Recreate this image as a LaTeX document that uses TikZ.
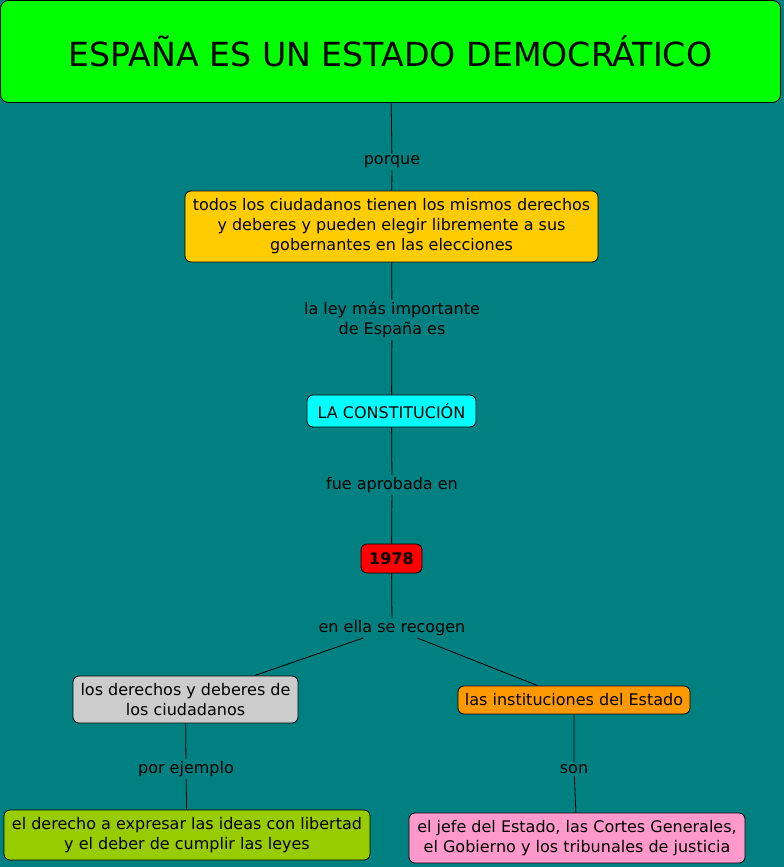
\documentclass[tikz,border=0pt]{standalone}
\usepackage{fontspec}
\setmainfont{DejaVu Sans}
\definecolor{bgteal}{HTML}{008080}
\definecolor{cgreen}{HTML}{00FF00}
\definecolor{cyellow}{HTML}{FFCC00}
\definecolor{ccyan}{HTML}{00FFFF}
\definecolor{cred}{HTML}{FF0000}
\definecolor{cgray}{HTML}{CCCCCC}
\definecolor{corange}{HTML}{FF9900}
\definecolor{clime}{HTML}{99CC00}
\definecolor{cpink}{HTML}{FF99CC}
\tikzset{
  box/.style={draw=black, line width=0.8pt, rounded corners=6pt, align=center, inner sep=0pt,
    font=\fontsize{16}{20}\selectfont, text=black},
  lbl/.style={fill=bgteal, inner sep=2pt, align=center, font=\fontsize{16}{20}\selectfont, text=black},
  conn/.style={draw=black, line width=0.8pt}
}
\begin{document}
\begin{tikzpicture}[x=1pt,y=-1pt]
\fill[bgteal] (0,0) rectangle (784,867);
\useasboundingbox (0,0) rectangle (784,867);
% boxes
\node[box, fill=cgreen, rounded corners=8pt, minimum width=780, minimum height=102,
  font=\fontsize{33.2}{36}\selectfont] (title) at (390.5,51.5) {ESPAÑA ES UN ESTADO DEMOCRÁTICO};
\node[box, fill=cyellow, minimum width=413, minimum height=71] (why) at (391.5,226.5)
  {todos los ciudadanos tienen los mismos derechos\\y deberes y pueden elegir libremente a sus\\gobernantes en las elecciones};
\node[box, fill=ccyan, minimum width=169, minimum height=32] (const) at (391.5,411) {LA CONSTITUCIÓN};
\node[box, fill=cred, minimum width=61, minimum height=29, font=\fontsize{16}{20}\selectfont\bfseries] (year) at (391.5,558.5) {1978};
\node[box, fill=cgray, minimum width=225, minimum height=47] (rights) at (185.5,699.5)
  {los derechos y deberes de\\los ciudadanos};
\node[box, fill=corange, minimum width=232, minimum height=28] (inst) at (574,700) {las instituciones del Estado};
\node[box, fill=clime, minimum width=366, minimum height=50] (expr) at (187,835)
  {el derecho a expresar las ideas con libertad\\y el deber de cumplir las leyes};
\node[box, fill=cpink, minimum width=336, minimum height=50] (jefe) at (577,838)
  {el jefe del Estado, las Cortes Generales,\\el Gobierno y los tribunales de justicia};
% labels
\node[lbl] (l1) at (392,162) {porque};
\node[lbl] (l2) at (392,320) {la ley más importante\\de España es};
\node[lbl] (l3) at (392,485) {fue aprobada en};
\node[lbl] (l4) at (392,628) {en ella se recogen};
\node[lbl] (l5) at (186,769) {por ejemplo};
\node[lbl] (l6) at (574,769) {son};
% connectors
\draw[conn] (title) -- (l1) -- (why);
\draw[conn] (why) -- (l2) -- (const);
\draw[conn] (const) -- (l3) -- (year);
\draw[conn] (year) -- (l4);
\draw[conn] (l4) -- (rights);
\draw[conn] (l4) -- (inst);
\draw[conn] (rights) -- (l5) -- (expr);
\draw[conn] (inst) -- (l6) -- (jefe);
\end{tikzpicture}
\end{document}
